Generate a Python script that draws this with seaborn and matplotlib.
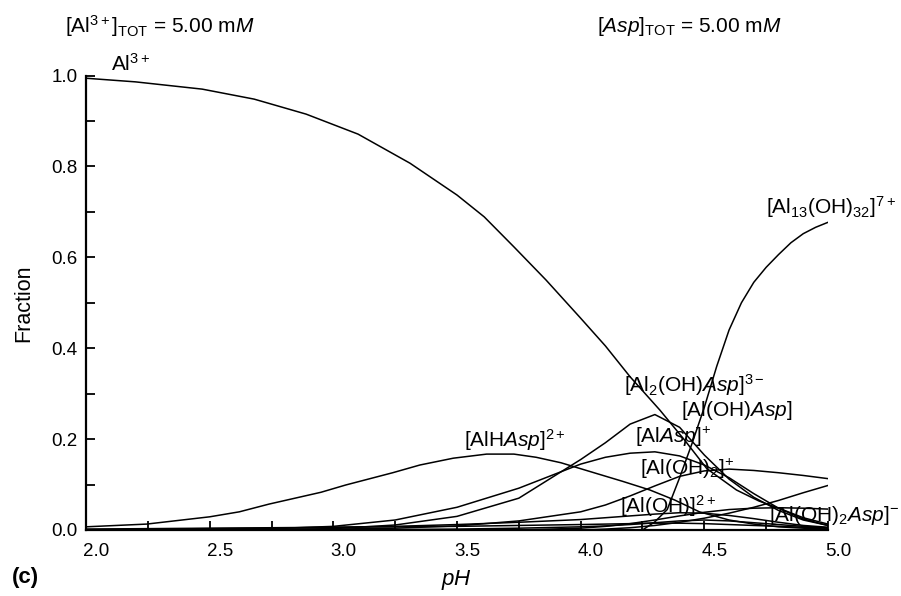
import matplotlib
matplotlib.use("Agg")
import matplotlib.pyplot as plt
import matplotlib.transforms as mtrans
from matplotlib.ticker import MultipleLocator
import seaborn as sns
import pandas as pd

# ---------------- data ----------------
ph_al3 = [2.0, 2.2, 2.47, 2.68, 2.89, 3.1, 3.31, 3.5, 3.61, 3.73, 3.86, 4.0,
          4.1, 4.2, 4.32, 4.42, 4.51, 4.63, 4.72, 4.82, 4.9, 5.0]
al3 = [0.994, 0.986, 0.970, 0.948, 0.915, 0.871, 0.807, 0.737, 0.689, 0.623,
       0.550, 0.466, 0.405, 0.337, 0.264, 0.198, 0.135, 0.088, 0.064, 0.044,
       0.027, 0.013]

ph_alhasp = [2.0, 2.245, 2.5, 2.62, 2.74, 2.95, 3.05, 3.24, 3.35, 3.485, 3.62,
             3.73, 3.82, 3.92, 4.06, 4.17, 4.28, 4.38, 4.48, 4.6, 4.7, 4.8,
             4.9, 5.0]
alhasp = [0.007, 0.013, 0.029, 0.040, 0.057, 0.083, 0.099, 0.126, 0.143, 0.158,
          0.167, 0.167, 0.160, 0.148, 0.125, 0.107, 0.088, 0.066, 0.040, 0.022,
          0.013, 0.007, 0.004, 0.002]

ph_full = [2.0, 2.25, 2.5, 2.75, 3.0, 3.25, 3.5, 3.75, 4.0, 4.1, 4.2, 4.3,
           4.4, 4.5, 4.6, 4.7, 4.8, 4.9, 5.0]
alasp = [0.0, 0.0005, 0.001, 0.003, 0.008, 0.022, 0.050, 0.092, 0.145, 0.160,
         0.169, 0.172, 0.163, 0.143, 0.115, 0.080, 0.048, 0.024, 0.010]
al2ohasp = [0.0, 0.0, 0.0005, 0.001, 0.003, 0.011, 0.030, 0.070, 0.155, 0.192,
            0.233, 0.254, 0.226, 0.165, 0.112, 0.072, 0.043, 0.022, 0.010]
aloh2 = [0.0, 0.0, 0.0, 0.001, 0.002, 0.004, 0.009, 0.020, 0.040, 0.055,
         0.075, 0.097, 0.118, 0.130, 0.134, 0.131, 0.126, 0.120, 0.113]
aloh = [0.001, 0.002, 0.003, 0.004, 0.006, 0.008, 0.012, 0.017, 0.023, 0.027,
        0.031, 0.035, 0.038, 0.037, 0.032, 0.025, 0.017, 0.010, 0.006]
minor1 = [0.002, 0.003, 0.004, 0.005, 0.006, 0.007, 0.008, 0.010, 0.012, 0.013,
          0.014, 0.015, 0.015, 0.014, 0.012, 0.010, 0.008, 0.006, 0.004]

ph_ohasp = [3.75, 4.0, 4.1, 4.2, 4.3, 4.4, 4.5, 4.6, 4.7, 4.8, 4.9, 5.0]
alohasp = [0.0, 0.004, 0.008, 0.014, 0.022, 0.031, 0.039, 0.045, 0.048, 0.049,
           0.048, 0.046]

ph_oh2asp = [4.0, 4.1, 4.2, 4.3, 4.4, 4.5, 4.6, 4.7, 4.8, 4.9, 5.0]
aloh2asp = [0.0, 0.002, 0.005, 0.010, 0.017, 0.026, 0.037, 0.050, 0.065,
            0.082, 0.098]

ph_al13 = [4.25, 4.3, 4.35, 4.4, 4.45, 4.5, 4.55, 4.6, 4.65, 4.7, 4.75, 4.8,
           4.85, 4.9, 4.95, 5.0]
al13 = [0.0, 0.018, 0.045, 0.115, 0.190, 0.270, 0.360, 0.440, 0.500, 0.545,
        0.578, 0.606, 0.632, 0.652, 0.666, 0.677]

ph_minor2 = [3.0, 3.25, 3.5, 3.75, 4.0, 4.1, 4.2, 4.3, 4.4, 4.5, 4.6, 4.7,
             4.8, 4.9, 5.0]
minor2 = [0.0, 0.001, 0.002, 0.004, 0.007, 0.009, 0.012, 0.016, 0.020, 0.022,
          0.020, 0.016, 0.012, 0.008, 0.005]

series = {
    "Al3+": (ph_al3, al3),
    "AlHAsp": (ph_alhasp, alhasp),
    "AlAsp": (ph_full, alasp),
    "Al2OHAsp": (ph_full, al2ohasp),
    "AlOH2": (ph_full, aloh2),
    "AlOH": (ph_full, aloh),
    "minor1": (ph_full, minor1),
    "AlOHAsp": (ph_ohasp, alohasp),
    "AlOH2Asp": (ph_oh2asp, aloh2asp),
    "Al13": (ph_al13, al13),
    "minor2": (ph_minor2, minor2),
}

rows = []
for name, (xs, ys) in series.items():
    for x, y in zip(xs, ys):
        rows.append({"species": name, "pH": x, "Fraction": y})
df = pd.DataFrame(rows)

# ---------------- style ----------------
sns.set_theme(style="ticks")
plt.rcParams["font.family"] = ["Liberation Sans", "DejaVu Sans"]
plt.rcParams["mathtext.fontset"] = "custom"
plt.rcParams["mathtext.rm"] = "Liberation Sans"
plt.rcParams["mathtext.it"] = "Liberation Sans:italic"
plt.rcParams["mathtext.bf"] = "Liberation Sans:bold"
plt.rcParams["text.color"] = "black"
plt.rcParams["axes.labelcolor"] = "black"

fig = plt.figure(figsize=(9.01, 5.96), dpi=100)
ax = fig.add_axes([86 / 901, 66 / 596, (828 - 86) / 901, (530 - 75.5) / 596])

sns.lineplot(data=df, x="pH", y="Fraction", units="species", estimator=None,
             color="black", linewidth=1.1, sort=False, ax=ax, legend=False)

ax.set_xlim(2.0, 5.0)
ax.set_ylim(0.0, 1.0)
ax.xaxis.set_minor_locator(MultipleLocator(0.25))
ax.yaxis.set_minor_locator(MultipleLocator(0.1))
ax.set_xticks([2.0, 2.5, 3.0, 3.5, 4.0, 4.5, 5.0])
ax.set_xticklabels(["2.0", "2.5", "3.0", "3.5", "4.0", "4.5", "5.0"])
ax.set_yticks([0.0, 0.2, 0.4, 0.6, 0.8, 1.0])
ax.set_yticklabels(["0.0", "0.2", "0.4", "0.6", "0.8", "1.0"])
for s in ["top", "right"]:
    ax.spines[s].set_visible(False)
for s in ["left", "bottom"]:
    ax.spines[s].set_linewidth(1.6)
    ax.spines[s].set_color("black")
ax.tick_params(axis="both", which="both", direction="in", length=6.5,
               width=1.3, colors="black", labelsize=13.5)
ax.tick_params(axis="y", which="both", pad=6)
ax.tick_params(axis="x", which="both", pad=9)
offset = mtrans.ScaledTranslation(10 / 100, 0, fig.dpi_scale_trans)
for lab in ax.get_xticklabels():
    lab.set_transform(lab.get_transform() + offset)

ax.set_xlabel("$pH$", fontsize=16, labelpad=6, color="black")
ax.set_ylabel("Fraction", fontsize=15.5, labelpad=12, color="black")

# ---------------- annotations ----------------
fs = 15
fig.text(65 / 901, 1 - 26 / 596, r"[Al$^{3+}$]$_{\mathrm{TOT}}$ = 5.00 m$M$",
         fontsize=fs, ha="left", va="center", color="black")
fig.text(597 / 901, 1 - 26 / 596, r"[$Asp$]$_{\mathrm{TOT}}$ = 5.00 m$M$",
         fontsize=fs, ha="left", va="center", color="black")
labels = [
    (2.1, 1.025, r"Al$^{3+}$"),
    (4.75, 0.71, r"[Al$_{13}$(OH)$_{32}$]$^{7+}$"),
    (4.175, 0.318, r"[Al$_2$(OH)$Asp$]$^{3-}$"),
    (4.405, 0.262, r"[Al(OH)$Asp$]"),
    (3.53, 0.197, r"[AlH$Asp$]$^{2+}$"),
    (4.22, 0.205, r"[Al$Asp$]$^{+}$"),
    (4.24, 0.135, r"[Al(OH)$_2$]$^{+}$"),
    (4.16, 0.053, r"[Al(OH)]$^{2+}$"),
    (4.76, 0.033, r"[Al(OH)$_2$$Asp$]$^{-}$"),
]
for x, y, t in labels:
    ax.text(x, y, t, fontsize=fs, ha="left", va="center", color="black")

fig.text(12 / 901, 1 - 578 / 596, "(c)", fontsize=16, fontweight="bold",
         ha="left", va="center", color="black")

fig.savefig("out.png", dpi=100)
